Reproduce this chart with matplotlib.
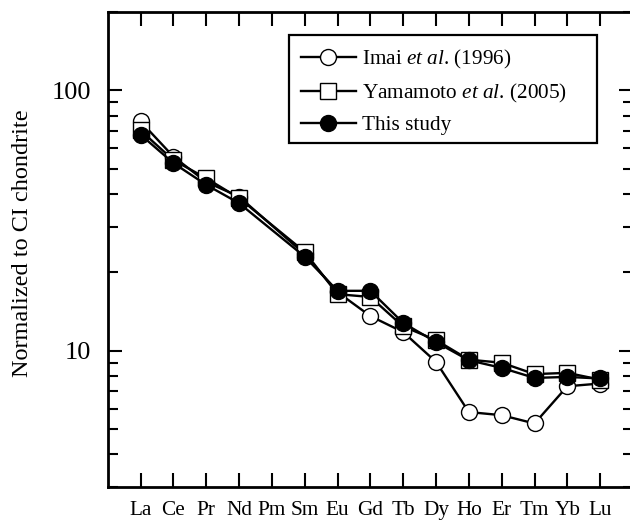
import numpy as np
import matplotlib
matplotlib.use("Agg")
import matplotlib.pyplot as plt
from matplotlib.patches import Rectangle
from matplotlib.ticker import FixedLocator, FixedFormatter, LogLocator, NullFormatter

plt.rcParams['font.family'] = ['Liberation Serif', 'DejaVu Serif']
plt.rcParams['mathtext.fontset'] = 'custom'
plt.rcParams['mathtext.rm'] = 'Liberation Serif'
plt.rcParams['mathtext.it'] = 'Liberation Serif:italic'

elements = ["La", "Ce", "Pr", "Nd", "Pm", "Sm", "Eu", "Gd", "Tb", "Dy", "Ho", "Er", "Tm", "Yb", "Lu"]
imai = [76, 55.7, 44.5, 39.1, np.nan, 23.5, 16.8, 13.6, 11.8, 9.07, 5.82, 5.66, 5.26, 7.31, 7.49]
yamamoto = [70.2, 54.0, 46.0, 38.6, np.nan, 24.0, 16.5, 16.1, 12.4, 11.0, 9.25, 9.0, 8.14, 8.23, 7.75]
this_study = [67.6, 52.6, 43.4, 36.9, np.nan, 23.0, 17.0, 17.0, 12.8, 10.8, 9.2, 8.6, 7.87, 7.94, 7.83]

series_labels = [r"Imai $\mathit{et\ al}$. (1996)", r"Yamamoto $\mathit{et\ al}$. (2005)", "This study"]
y_tick_values = [10, 100]
y_tick_labels = ["10", "100"]

W, H = 630, 520
fig = plt.figure(figsize=(6.3, 5.2), dpi=100)
ax = fig.add_axes([107.7/W, 33/H, (633-107.7)/W, (487-12)/H])

x = np.arange(len(elements))
styles = [
    dict(marker='o', mfc='white', mec='black'),
    dict(marker='s', mfc='white', mec='black'),
    dict(marker='o', mfc='black', mec='black'),
]
for vals, lab, st in zip([imai, yamamoto, this_study], series_labels, styles):
    v = np.array(vals, dtype=float)
    m = ~np.isnan(v)
    ax.plot(x[m], v[m], color='black', lw=1.7, ms=11.5, mew=1.0, label=lab, **st)

ax.set_yscale('log')
ax.set_ylim(3, 200)
ax.set_xlim(-1, 15)
ax.yaxis.set_major_locator(FixedLocator(y_tick_values))
ax.yaxis.set_major_formatter(FixedFormatter(y_tick_labels))
ax.yaxis.set_minor_locator(LogLocator(base=10, subs=np.arange(2, 10)))
ax.yaxis.set_minor_formatter(NullFormatter())
ax.set_xticks(x)
ax.set_xticklabels(elements)
ax.xaxis.set_minor_locator(FixedLocator([]))

ax.tick_params(axis='both', which='major', direction='in', length=10, width=1.5,
               top=True, right=True)
ax.tick_params(axis='y', which='minor', direction='in', length=7, width=1.5, right=True)
ax.tick_params(axis='y', which='major', labelsize=19, pad=12)
ax.tick_params(axis='x', which='major', labelsize=15.3, pad=10)
for s in ax.spines.values():
    s.set_linewidth(2)

ax.set_ylabel("Normalized to CI chondrite", fontsize=17.5)
ax.yaxis.set_label_coords(-0.143, 0.514)

leg = ax.legend(loc='upper left', bbox_to_anchor=(300.7/W, 1-48/H), bbox_transform=fig.transFigure,
                borderaxespad=0, borderpad=0, fontsize=15.3, frameon=False, handlelength=2.6,
                handletextpad=0.28, labelspacing=0.5)
fig.patches.append(Rectangle((289/W, 1-143/H), (597-289)/W, (143-35)/H, transform=fig.transFigure,
                             fill=False, lw=1.6, ec='black', zorder=5))

fig.savefig("out.png", dpi=100)
